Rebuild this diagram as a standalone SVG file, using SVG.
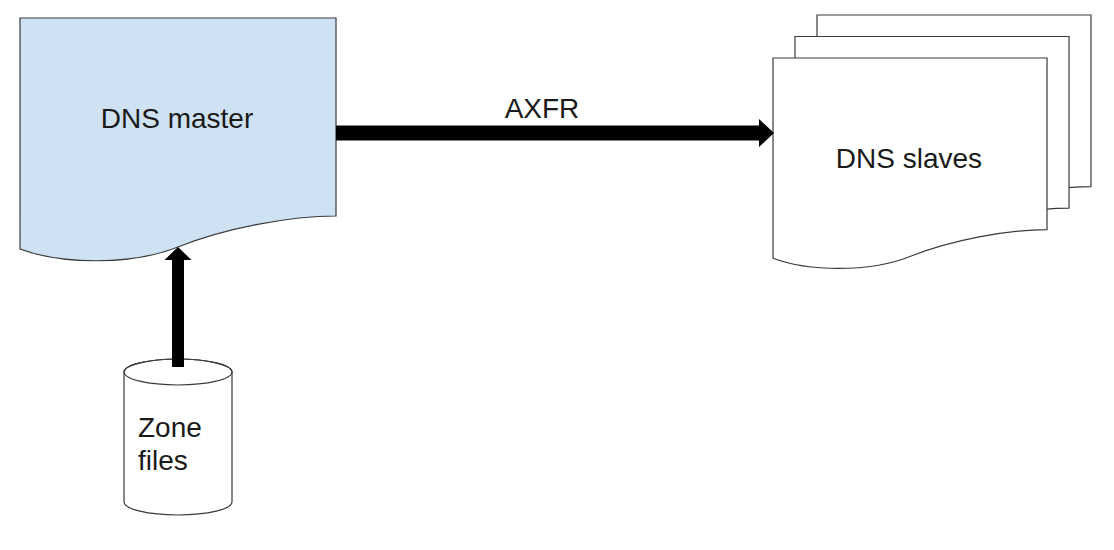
<svg xmlns="http://www.w3.org/2000/svg" width="1114" height="550" viewBox="0 0 1114 550">
<style>
.shape{stroke:#3a3a3a;stroke-width:1.2;}
.lbl{font-family:"Liberation Sans",Arial,sans-serif;font-size:28px;fill:#1a1a1a;}
.shaft{stroke:#000;fill:none;}
.head{fill:#000;}
</style>
<rect width="1114" height="550" fill="#ffffff"/>
<g id="dns-master">
<path class="shape" fill="#cfe2f3" d="M20,18 H336 V216 C290,216 226,228 178,247 C130,266 60,264 20,249 Z"/>
<text class="lbl" x="177" y="128" text-anchor="middle">DNS master</text>
</g>
<g id="dns-slaves">
<path class="shape" fill="#ffffff" d="M817,15 H1091 V186.7 C1051,186.7 995.6,197 954,213.5 C912.4,230 851.7,228.3 817,215.3 Z"/>
<path class="shape" fill="#ffffff" d="M795,36.5 H1069 V208.2 C1029,208.2 973.6,218.5 932,235 C890.4,251.5 829.7,249.8 795,236.8 Z"/>
<path class="shape" fill="#ffffff" d="M773,58 H1047 V229.7 C1007,229.7 951.6,240 910,256.5 C868.4,273 807.7,271.3 773,258.3 Z"/>
<text class="lbl" x="909" y="168" text-anchor="middle">DNS slaves</text>
</g>
<g id="zone-files">
<path class="shape" fill="#ffffff" d="M124,372 V502 A54,13 0 0 0 232,502 V372 A54,13 0 0 0 124,372 Z"/>
<ellipse class="shape" fill="none" cx="178" cy="372" rx="54" ry="13"/>
<text class="lbl" x="138" y="437">Zone</text>
<text class="lbl" x="138" y="470">files</text>
</g>
<g id="connectors">
<line class="shaft" x1="336" y1="133" x2="761" y2="133" stroke-width="15"/>
<polygon class="head" points="759,119 774,133 759,147"/>
<line class="shaft" x1="178" y1="367" x2="178" y2="258" stroke-width="12"/>
<polygon class="head" points="164.5,260 178,247 191.5,260"/>
<text class="lbl" x="542" y="118" text-anchor="middle">AXFR</text>
</g>
</svg>
